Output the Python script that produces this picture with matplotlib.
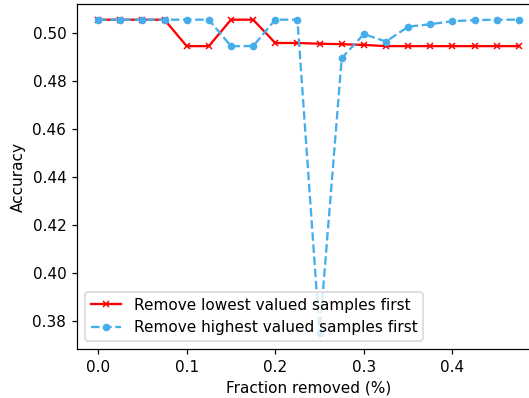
import matplotlib
matplotlib.use("Agg")
import matplotlib.pyplot as plt

fractions = [0.0, 0.025, 0.05, 0.075, 0.1, 0.125, 0.15, 0.175, 0.2, 0.225,
             0.25, 0.275, 0.3, 0.325, 0.35, 0.375, 0.4, 0.425, 0.45, 0.475]

acc_lowest_first = [0.5055, 0.5055, 0.5055, 0.5055, 0.4945, 0.4945, 0.5055, 0.5055, 0.4958, 0.4958,
                    0.4955, 0.4953, 0.4950, 0.4945, 0.4945, 0.4945, 0.4945, 0.4945, 0.4945, 0.4945]

acc_highest_first = [0.5055, 0.5055, 0.5055, 0.5055, 0.5055, 0.5055, 0.4945, 0.4945, 0.5055, 0.5055,
                     0.3750, 0.4895, 0.4995, 0.4964, 0.5026, 0.5036, 0.5049, 0.5053, 0.5055, 0.5055]

dpi = 110
fig = plt.figure(figsize=(529 / dpi, 398 / dpi), dpi=dpi)
# axes run past the right edge of the figure (the original was cropped)
ax = fig.add_axes([77 / 529, 49 / 398, 463 / 529, 345 / 398])

ax.plot(fractions, acc_lowest_first, color="red", marker="x", markersize=4,
        label="Remove lowest valued samples first")
ax.plot(fractions, acc_highest_first, color="#45ADEA", linestyle="--", marker="o", markersize=4,
        label="Remove highest valued samples first")

ax.set_xlabel("Fraction removed (%)")
ax.set_ylabel("Accuracy")
ax.legend(loc="lower left")

fig.savefig("out.png", dpi=dpi)
